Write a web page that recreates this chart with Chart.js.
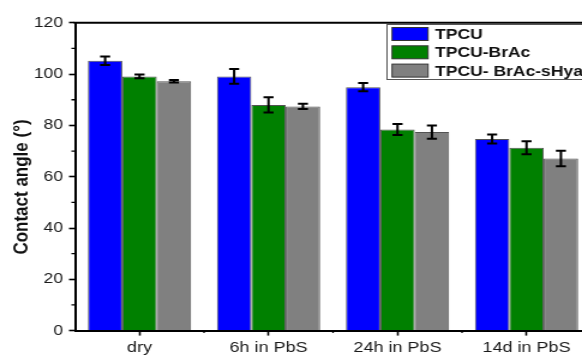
<!DOCTYPE html>
<html>
<head>
<meta charset="utf-8">
<script src="https://cdn.jsdelivr.net/npm/chart.js@4/dist/chart.umd.min.js"></script>
<style>
  html, body { margin: 0; padding: 0; background: #fff; overflow: hidden; }
  /* the source picture is stretched sideways, so stretch the whole chart */
  #wrap { width: 500px; height: 356px; transform: scaleX(1.2); transform-origin: 0 0; }
</style>
</head>
<body>
<div id="wrap"><canvas id="chart"></canvas></div>
<script>
const categories = ['dry', '6h in PbS', '24h in PbS', '14d in PbS']
const seriesNames = ['TPCU', 'TPCU-BrAc', 'TPCU- BrAc-sHya']
const tpcu = [105.2, 99.1, 94.9, 74.7]
const tpcuErr = [1.7, 2.9, 1.6, 1.8]
const brac = [99.1, 88.0, 78.4, 71.3]
const bracErr = [0.7, 3.0, 2.1, 2.5]
const shya = [97.2, 87.4, 77.4, 67.1]
const shyaErr = [0.5, 1.0, 2.6, 3.0]
const yTicks = [0, 20, 40, 60, 80, 100, 120]

const colors = ['#0000ff', '#008000', '#808080']
const errors = [tpcuErr, bracErr, shyaErr]

const errorBars = {
  id: 'errorBars',
  afterDatasetsDraw(chart) {
    const ctx = chart.ctx
    const y = chart.scales.y
    ctx.save()
    ctx.strokeStyle = '#000'
    ctx.lineWidth = 2
    chart.data.datasets.forEach((ds, i) => {
      chart.getDatasetMeta(i).data.forEach((bar, j) => {
        const v = ds.data[j], e = errors[i][j]
        const top = y.getPixelForValue(v + e), bot = y.getPixelForValue(v - e)
        const x = bar.x, w = 4.2
        ctx.beginPath()
        ctx.moveTo(x, top); ctx.lineTo(x, bot)
        ctx.moveTo(x - w, top); ctx.lineTo(x + w, top)
        ctx.moveTo(x - w, bot); ctx.lineTo(x + w, bot)
        ctx.stroke()
      })
    })
    ctx.restore()
  }
}

const decorations = {
  id: 'decorations',
  afterDraw(chart) {
    const ctx = chart.ctx
    const a = chart.chartArea
    const x = chart.scales.x, y = chart.scales.y
    ctx.save()
    // top frame line
    ctx.strokeStyle = '#000'
    ctx.lineWidth = 2
    ctx.beginPath()
    ctx.moveTo(a.left - 1, a.top); ctx.lineTo(chart.width, a.top)
    ctx.stroke()
    // minor ticks
    ctx.lineWidth = 1.3
    ctx.beginPath()
    for (let v = 10; v < 120; v += 20) {
      const py = y.getPixelForValue(v)
      ctx.moveTo(a.left, py); ctx.lineTo(a.left - 3, py)
    }
    for (let i = 0; i < categories.length - 1; i++) {
      const px = (x.getPixelForValue(i) + x.getPixelForValue(i + 1)) / 2
      ctx.moveTo(px, a.bottom); ctx.lineTo(px, a.bottom + 2.5)
    }
    ctx.stroke()
    // y title
    ctx.fillStyle = '#111'
    ctx.font = 'bold 17px "Liberation Sans", Arial, sans-serif'
    ctx.textAlign = 'center'
    ctx.textBaseline = 'middle'
    ctx.translate(18.3, 187)
    ctx.rotate(-Math.PI / 2)
    ctx.fillText('Contact angle (°)', 0, 0)
    ctx.restore()
    // legend
    ctx.save()
    ctx.strokeStyle = '#555'
    ctx.lineWidth = 1
    ctx.strokeRect(322.5, 24.5, 200, 55)
    ctx.font = 'bold 14.6px "Liberation Sans", Arial, sans-serif'
    ctx.textBaseline = 'middle'
    chart.data.datasets.forEach((ds, i) => {
      const cy = 34 + i * 18.3
      ctx.fillStyle = ds.backgroundColor
      ctx.fillRect(326.7, cy - 6.5, 30, 13)
      ctx.strokeStyle = '#333'
      ctx.strokeRect(326.7, cy - 6.5, 30, 13)
      ctx.fillStyle = '#111'
      ctx.fillText(ds.label, 362.5, cy + 1)
    })
    ctx.restore()
  }
}

const data = {
  labels: categories,
  datasets: [tpcu, brac, shya].map((vals, i) => ({
    label: seriesNames[i],
    data: vals,
    backgroundColor: colors[i],
    borderColor: 'rgba(40,40,40,0.8)',
    borderWidth: 1,
    borderSkipped: 'bottom',
    categoryPercentage: 0.8,
    barPercentage: 1.0
  }))
}

const config = {
  type: 'bar',
  data: data,
  options: {
    responsive: true,
    maintainAspectRatio: false,
    animation: false,
    layout: { padding: { top: 22.8, right: 7.5, left: 0, bottom: 0 } },
    plugins: {
      legend: { display: false },
      tooltip: { enabled: false }
    },
    scales: {
      x: {
        grid: { offset: false, drawOnChartArea: false, tickLength: 5, tickColor: '#000', tickWidth: 1.6 },
        border: { color: '#000', width: 2 },
        ticks: { color: '#1a1a1a', padding: 3, font: { size: 15, family: '"Liberation Sans", Arial, sans-serif' } },
        afterFit: (s) => { s.height = 25.4 }
      },
      y: {
        min: 0,
        max: 120,
        afterBuildTicks: (s) => { s.ticks = yTicks.map(v => ({ value: v })) },
        grid: { drawOnChartArea: false, tickLength: 5, tickColor: '#000', tickWidth: 1.6 },
        border: { color: '#000', width: 2 },
        ticks: { color: '#1a1a1a', padding: 5, font: { size: 14.5, family: '"Liberation Sans", Arial, sans-serif' } },
        afterFit: (s) => { s.width = 62.5 }
      }
    }
  },
  plugins: [errorBars, decorations]
}

new Chart(document.getElementById('chart').getContext('2d'), config)
</script>
</body>
</html>
